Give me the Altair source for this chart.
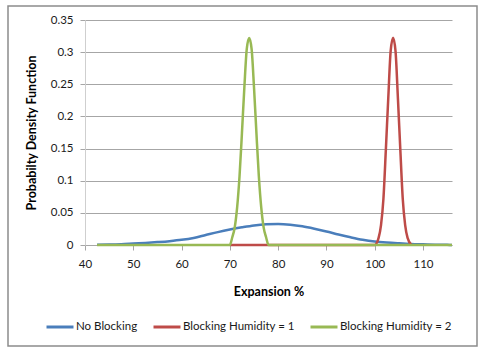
import altair as alt
import pandas as pd

# --- data ---
blue_x = [42.5, 45, 47.5, 50, 52.5, 55, 57.5, 60, 62.5, 65, 67.5, 70, 72.5, 75, 77.5,
          80, 82.5, 85, 87.5, 90, 92.5, 95, 97.5, 100, 102.5, 105, 107.5, 110, 112.5, 115, 116]
blue_y = [0.0003, 0.0006, 0.0012, 0.0022, 0.0032, 0.0045, 0.006, 0.008, 0.011, 0.0155,
          0.020, 0.024, 0.0275, 0.0305, 0.0322, 0.0326, 0.0315, 0.029, 0.0253, 0.021,
          0.0163, 0.012, 0.0082, 0.0055, 0.0038, 0.0026, 0.0016, 0.0010, 0.0005, 0.0002, 0.0001]

red_x = [70, 100, 100.8, 101.3, 101.8, 102.3, 102.8, 103.3, 103.8, 104.3, 104.8, 105.3,
         105.8, 106.3, 106.8, 107.6]
red_y = [0, 0, 0.011, 0.031, 0.072, 0.148, 0.228, 0.302, 0.3225, 0.302, 0.228, 0.148,
         0.072, 0.031, 0.011, 0]

green_x = [42.5, 70, 70.5, 71, 71.5, 72, 72.5, 73, 73.5, 74, 74.5, 75, 75.5, 76, 76.5,
           77, 77.5, 78, 116]
green_y = [0, 0, 0.012, 0.027, 0.058, 0.107, 0.174, 0.245, 0.305, 0.322, 0.305, 0.245,
           0.174, 0.107, 0.058, 0.027, 0.012, 0, 0]

series = ["No Blocking", "Blocking Humidity = 1", "Blocking Humidity = 2"]
colors = ["#4a7ebb", "#be4b48", "#98b954"]
x_ticks = [40, 50, 60, 70, 80, 90, 100, 110]
y_ticks = [0, 0.05, 0.1, 0.15, 0.2, 0.25, 0.3, 0.35]

def frame(xs, ys, name):
    return pd.DataFrame({"x": xs, "y": ys, "s": name})

FONT = "Lato"
GRID = "#a6a6a6"

x_enc = alt.X("x:Q", scale=alt.Scale(domain=[40, 116], nice=False, zero=False),
              axis=alt.Axis(values=x_ticks, title="Expansion %", grid=False,
                            domainColor=GRID, tickColor=GRID, tickSize=5,
                            labelPadding=8, titlePadding=16, labelFlush=False))
y_enc = alt.Y("y:Q", scale=alt.Scale(domain=[0, 0.35], nice=False),
              axis=alt.Axis(values=y_ticks, format="~g", title="Probabilty Density Function",
                            grid=True, gridColor=GRID, domainColor="#cfcfcf", tickColor=GRID,
                            tickSize=5, labelPadding=7, titlePadding=12))
color_enc = alt.Color("s:N", scale=alt.Scale(domain=series, range=colors),
                      legend=alt.Legend(title=None, orient="none", direction="horizontal",
                                        legendX=-40, legendY=292, symbolType="stroke",
                                        symbolSize=729, symbolStrokeWidth=3,
                                        labelOffset=1, columnPadding=9, padding=0,
                                        labelFontSize=11.5, labelFont=FONT, labelColor="#1a1a1a"))

layers = []
for xs, ys, name in [(blue_x, blue_y, series[0]), (red_x, red_y, series[1]),
                     (green_x, green_y, series[2])]:
    layers.append(
        alt.Chart(frame(xs, ys, name)).mark_line(interpolate="monotone", strokeWidth=2.5)
        .encode(x=x_enc, y=y_enc, color=color_enc)
    )

border = alt.Chart(pd.DataFrame({"a": [0]})).mark_rect(
    fillOpacity=0, stroke="#8c8c8c", strokeWidth=1.5
).encode(x=alt.value(-77), x2=alt.value(392), y=alt.value(-14), y2=alt.value(326))

chart = alt.layer(border, *layers).properties(
    width=367, height=225,
    autosize=alt.AutoSizeParams(type="none"),
    padding={"left": 85, "top": 20, "right": 33, "bottom": 111},
    background="white",
).configure_view(stroke="transparent").configure_axis(
    labelFont=FONT, titleFont=FONT, labelFontSize=11.5, titleFontSize=12.5,
    labelColor="#1a1a1a", titleColor="#000000", titleFontWeight="bold"
)

chart.save("out.html", embed_options={"renderer": "svg", "actions": False})
